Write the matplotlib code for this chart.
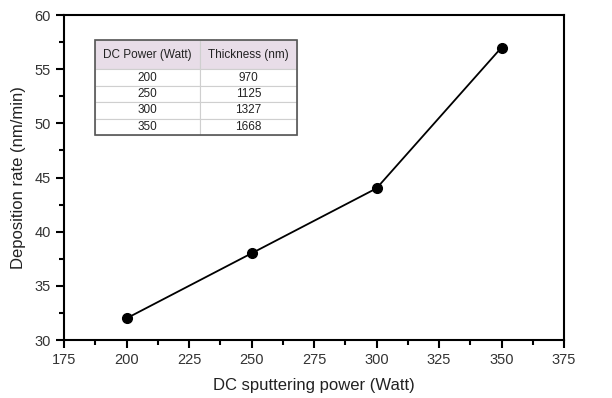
import matplotlib
matplotlib.use("Agg")
import matplotlib.pyplot as plt
import matplotlib.patches as mpatches
from matplotlib.ticker import MultipleLocator

power = [200, 250, 300, 350]
rate = [32, 38, 44, 57]
table_cols = ["DC Power (Watt)", "Thickness (nm)"]
table_power = ["200", "250", "300", "350"]
table_thick = ["970", "1125", "1327", "1668"]

plt.rcParams['font.family'] = ['Liberation Sans', 'DejaVu Sans']
fig = plt.figure(figsize=(6.12, 3.98), dpi=100)
ax = fig.add_axes([0.1046, 0.1457, 0.817, 0.8166])
ax.plot(power, rate, color='black', lw=1.3, marker='o', ms=7, zorder=3)
ax.set_xlim(175, 375)
ax.set_ylim(30, 60)
ax.xaxis.set_major_locator(MultipleLocator(25))
ax.xaxis.set_minor_locator(MultipleLocator(12.5))
ax.yaxis.set_major_locator(MultipleLocator(5))
ax.yaxis.set_minor_locator(MultipleLocator(2.5))
for s in ax.spines.values():
    s.set_linewidth(1.5)
ax.tick_params(which='major', direction='out', length=6, width=1.5, labelsize=10.5, colors='black', labelcolor='#333333')
ax.tick_params(which='minor', direction='out', length=3.5, width=1.5)
ax.set_xlabel("DC sputtering power (Watt)", fontsize=12, color='#222222', labelpad=8)
ax.set_ylabel("Deposition rate (nm/min)", fontsize=12, color='#222222', labelpad=6)

cell_text = [[p, t] for p, t in zip(table_power, table_thick)]
tbl = ax.table(cellText=cell_text, colLabels=table_cols, cellLoc='center',
               bbox=[0.062, 0.631, 0.404, 0.292], colWidths=[0.52, 0.48])
tbl.auto_set_font_size(False)
nrows = len(cell_text) + 1
header_h = 0.31
row_h = (1 - header_h) / (nrows - 1)
for (r, c), cell in tbl.get_celld().items():
    cell.set_fontsize(8.5)
    cell.set_edgecolor('#cfcfcf')
    cell.set_linewidth(0.8)
    cell.get_text().set_color('#222222')
    if r == 0:
        cell.set_facecolor('#e8dde8')
        cell.set_height(header_h)
    else:
        cell.set_facecolor('white')
        cell.set_height(row_h)
ax.add_patch(mpatches.Rectangle((0.062, 0.631), 0.404, 0.292, transform=ax.transAxes,
                                fill=False, edgecolor='#555555', lw=1.2, zorder=5))

fig.savefig("out.png", dpi=100)
